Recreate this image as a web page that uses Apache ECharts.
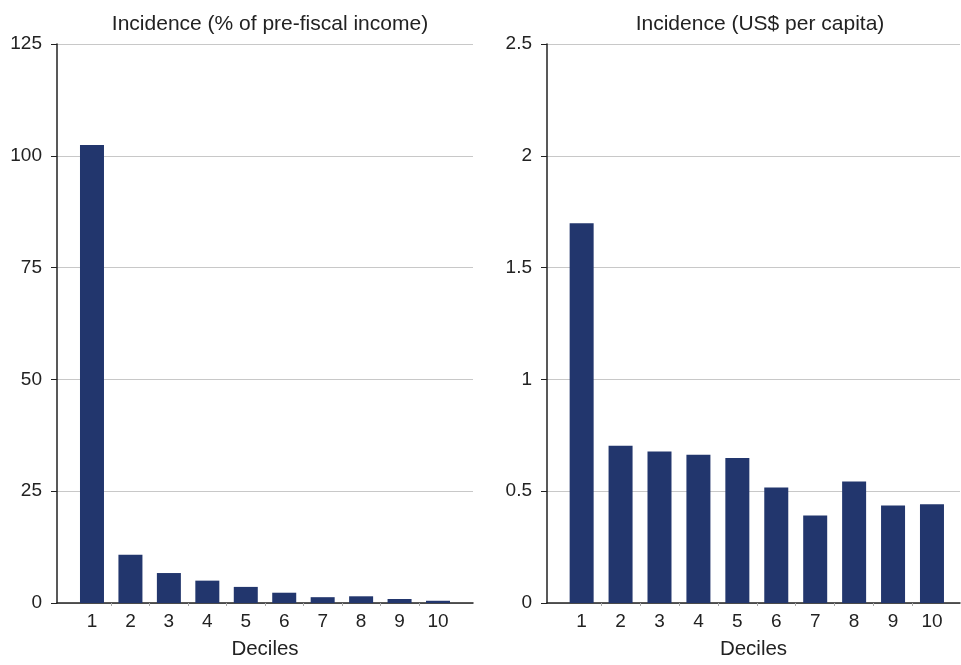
<!DOCTYPE html>
<html>
<head>
<meta charset="utf-8">
<script src="https://cdn.jsdelivr.net/npm/echarts@6/dist/echarts.min.js"></script>
<style>html,body{margin:0;padding:0;background:#fff;}#c{width:961px;height:665px;}</style>
</head>
<body>
<div id="c"></div>
<script>
var deciles = [1, 2, 3, 4, 5, 6, 7, 8, 9, 10];
var pctIncome = [102.4, 10.8, 6.7, 5.0, 3.6, 2.3, 1.3, 1.5, 0.9, 0.5];
var usdPerCapita = [1.698, 0.703, 0.678, 0.663, 0.649, 0.516, 0.391, 0.543, 0.436, 0.442];
var titles = ['Incidence (% of pre-fiscal income)', 'Incidence (US$ per capita)'];
var xName = 'Deciles';
var tickBounds = [1.5, 2.5, 3.5, 4.5, 5.5, 6.5, 7.5, 8.5, 9.5];

var FONT = 'Liberation Sans, Arial, Helvetica, sans-serif';
var TXT = '#222';
var BAR = '#22366d';

function xAxisCfg(idx, mn, mx) {
  return {
    type: 'value', gridIndex: idx, min: mn, max: mx,
    name: xName, nameLocation: 'middle', nameGap: 36,
    nameTextStyle: {fontFamily: FONT, fontSize: 20.5, color: TXT},
    axisLine: {show: true, lineStyle: {color: '#222', width: 1.5}},
    axisTick: {show: true, customValues: tickBounds, length: 3, lineStyle: {color: '#aaa'}},
    axisLabel: {customValues: deciles, fontFamily: FONT, fontSize: 19, color: TXT, margin: 9},
    splitLine: {show: false}
  };
}
function yAxisCfg(idx, mx, iv) {
  return {
    type: 'value', gridIndex: idx, min: 0, max: mx, interval: iv,
    axisLine: {show: true, lineStyle: {color: '#222', width: 1.5}},
    axisTick: {show: true, length: 6, lineStyle: {color: '#222'}},
    axisLabel: {fontFamily: FONT, fontSize: 19, color: TXT, margin: 15},
    splitLine: {show: true, lineStyle: {color: '#c8c8c8', width: 1}}
  };
}
function pairs(vals) { return deciles.map(function (d, i) { return [d, vals[i]]; }); }

var chart = echarts.init(document.getElementById('c'), null, {renderer: 'canvas'});
chart.setOption({
  animation: false,
  backgroundColor: '#fff',
  title: [
    {text: titles[0], left: 265, top: 9, textAlign: 'center',
     textStyle: {fontFamily: FONT, fontSize: 21, fontWeight: 'normal', color: TXT}},
    {text: titles[1], left: 755, top: 9, textAlign: 'center',
     textStyle: {fontFamily: FONT, fontSize: 21, fontWeight: 'normal', color: TXT}}
  ],
  grid: [
    {left: 57, top: 44, width: 416, height: 562},
    {left: 547, top: 44, width: 413, height: 562}
  ],
  xAxis: [xAxisCfg(0, 0.09, 10.91), xAxisCfg(1, 0.11, 10.72)],
  yAxis: [yAxisCfg(0, 125, 25), yAxisCfg(1, 2.5, 0.5)],
  series: [
    {type: 'bar', xAxisIndex: 0, yAxisIndex: 0, data: pairs(pctIncome), barWidth: 24,
     itemStyle: {color: BAR}},
    {type: 'bar', xAxisIndex: 1, yAxisIndex: 1, data: pairs(usdPerCapita), barWidth: 24,
     itemStyle: {color: BAR}}
  ]
});
</script>
</body>
</html>
